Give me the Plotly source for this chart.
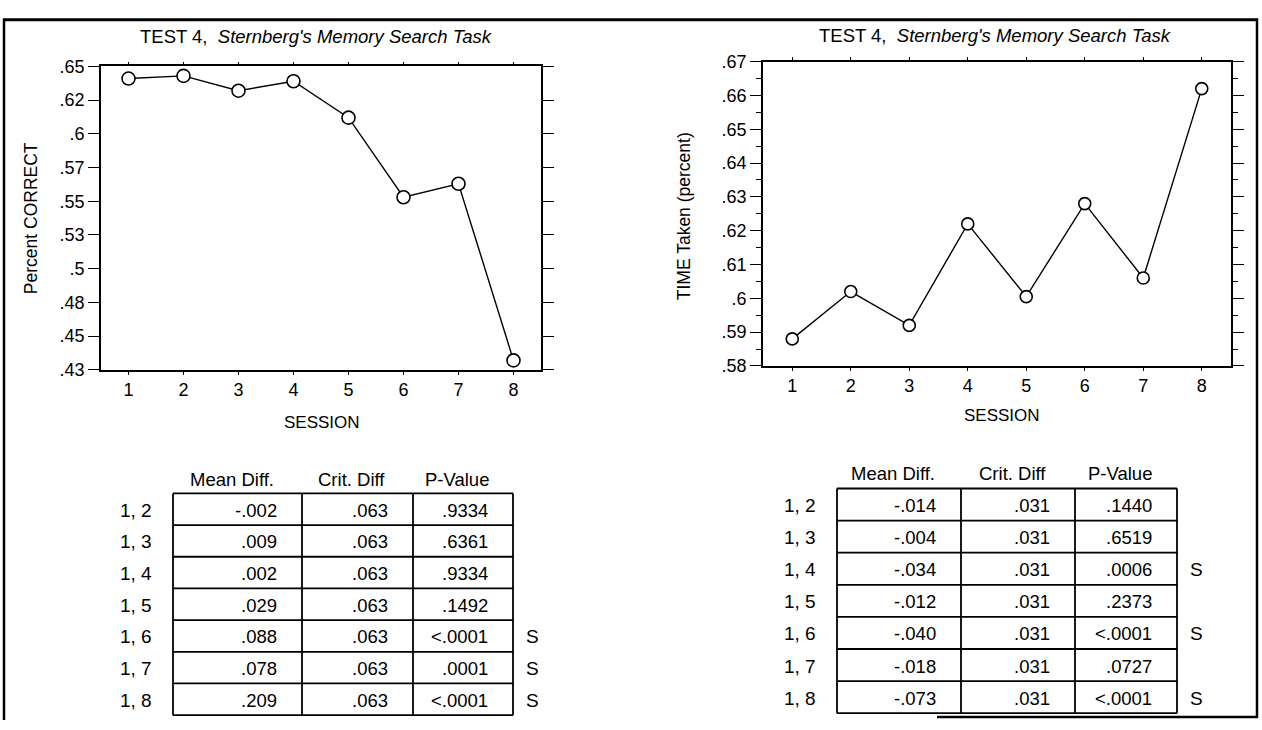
import plotly.graph_objects as go

W, H = 1262, 730
FONT = "Liberation Sans, Arial, Helvetica, sans-serif"

# ---------------- data ----------------
sessions = [1, 2, 3, 4, 5, 6, 7, 8]
pct_correct = [0.641, 0.643, 0.632, 0.639, 0.612, 0.553, 0.563, 0.432]
time_taken = [0.588, 0.602, 0.592, 0.622, 0.6005, 0.628, 0.606, 0.662]

left_ytickvals = [0.425, 0.45, 0.475, 0.5, 0.525, 0.55, 0.575, 0.6, 0.625, 0.65]
left_yticktext = [".43", ".45", ".48", ".5", ".53", ".55", ".57", ".6", ".62", ".65"]
right_ytickvals = [0.58, 0.59, 0.60, 0.61, 0.62, 0.63, 0.64, 0.65, 0.66, 0.67]
right_yticktext = [".58", ".59", ".6", ".61", ".62", ".63", ".64", ".65", ".66", ".67"]

table_headers = ["Mean Diff.", "Crit. Diff", "P-Value"]
pair_labels = ["1, 2", "1, 3", "1, 4", "1, 5", "1, 6", "1, 7", "1, 8"]

left_mean = ["-.002", ".009", ".002", ".029", ".088", ".078", ".209"]
left_crit = [".063", ".063", ".063", ".063", ".063", ".063", ".063"]
left_p = [".9334", ".6361", ".9334", ".1492", "<.0001", ".0001", "<.0001"]
left_sig = ["", "", "", "", "S", "S", "S"]

right_mean = ["-.014", "-.004", "-.034", "-.012", "-.040", "-.018", "-.073"]
right_crit = [".031", ".031", ".031", ".031", ".031", ".031", ".031"]
right_p = [".1440", ".6519", ".0006", ".2373", "<.0001", ".0727", "<.0001"]
right_sig = ["", "", "S", "", "S", "", "S"]

title_text = "TEST 4,&nbsp; <i>Sternberg's Memory Search Task</i>"

# ---------------- helpers ----------------
def px(x):
    return x / W

def py(y):
    return 1 - y / H

fig = go.Figure()

marker_style = dict(symbol="circle", color="white", line=dict(color="black", width=1.6))

fig.add_trace(go.Scatter(x=sessions, y=pct_correct, mode="lines+markers",
                         line=dict(color="black", width=1.4),
                         marker=dict(size=13, **marker_style),
                         xaxis="x", yaxis="y", showlegend=False))
fig.add_trace(go.Scatter(x=sessions, y=time_taken, mode="lines+markers",
                         line=dict(color="black", width=1.4),
                         marker=dict(size=12, **marker_style),
                         xaxis="x2", yaxis="y2", showlegend=False))

# plot areas (pixels)
L = dict(x0=101, x1=541, y0=58, y1=370)
R = dict(x0=763, x1=1231, y0=53, y1=366)

TICKFONT = dict(family=FONT, size=18, color="black")
common_x = dict(range=[0.5, 8.5], tickvals=sessions, ticks="outside", ticklen=3,
                tickwidth=1.2, tickcolor="black", showline=True, linecolor="black",
                linewidth=1.8, mirror="allticks", showgrid=False, zeroline=False,
                tickfont=TICKFONT)
common_y = dict(ticks="outside", ticklen=11, tickwidth=1.4, tickcolor="black",
                showline=True, linecolor="black", linewidth=1.8, mirror="allticks",
                showgrid=False, zeroline=False, tickfont=TICKFONT)

fig.update_layout(
    width=W, height=H,
    margin=dict(l=0, r=0, t=0, b=0),
    paper_bgcolor="white", plot_bgcolor="white",
    font=dict(family=FONT, size=18, color="black"),
    xaxis=dict(domain=[px(L["x0"]), px(L["x1"])], anchor="y", **common_x),
    yaxis=dict(domain=[py(L["y1"]), py(L["y0"])], anchor="x", range=[0.425, 0.65],
               tickvals=left_ytickvals, ticktext=left_yticktext, **common_y),
    xaxis2=dict(domain=[px(R["x0"]), px(R["x1"])], anchor="y2", **common_x),
    yaxis2=dict(domain=[py(R["y1"]), py(R["y0"])], anchor="x2", range=[0.58, 0.67],
                tickvals=right_ytickvals, ticktext=right_yticktext,
                minor=dict(dtick=0.005, tick0=0.58, ticks="outside", ticklen=5,
                           tickwidth=1.3, tickcolor="black", showgrid=False),
                **common_y),
)

annotations = []
shapes = []

def text(x, y, s, size=18, xanchor="center", angle=0):
    annotations.append(dict(x=px(x), y=py(y), xref="paper", yref="paper", text=s,
                            showarrow=False, xanchor=xanchor, yanchor="middle",
                            textangle=angle,
                            font=dict(family=FONT, size=size, color="black")))

# titles and axis titles
text(316, 27, title_text, size=18.5)
text(995, 26, title_text, size=18.5)
text(322, 424, "SESSION", size=17)
text(1002, 417, "SESSION", size=17)
text(31, 214, "Percent CORRECT", size=17.5, angle=-90)
text(684, 212, "TIME Taken (percent)", size=17.5, angle=-90)

# tables
def draw_table(edges, top, bottom, header_y, mean, crit, pval, sig):
    n = len(pair_labels)
    rh = (bottom - top) / n
    lw = 1.8
    for i in range(n + 1):
        yy = top + i * rh
        shapes.append(dict(type="line", xref="paper", yref="paper",
                           x0=px(edges[0]), x1=px(edges[-1]), y0=py(yy), y1=py(yy),
                           line=dict(color="black", width=lw)))
    for xx in edges:
        shapes.append(dict(type="line", xref="paper", yref="paper",
                           x0=px(xx), x1=px(xx), y0=py(top), y1=py(bottom),
                           line=dict(color="black", width=lw)))
    for j, h in enumerate(table_headers):
        text((edges[j] + edges[j + 1]) / 2 - 6, header_y, h, size=18.5)
    cols = [mean, crit, pval]
    for i in range(n):
        yc = top + (i + 0.5) * rh + 1
        text(edges[0] - 37, yc, pair_labels[i], size=19)
        for j, col in enumerate(cols):
            text(edges[j + 1] - 23, yc, col[i], size=18.5, xanchor="right")
        if sig[i]:
            text(edges[-1] + 19, yc, sig[i], size=19)

draw_table([173, 302, 413, 513], 497, 725, 483, left_mean, left_crit, left_p, left_sig)
draw_table([837, 961, 1075, 1177], 492, 723, 477, right_mean, right_crit, right_p, right_sig)

# outer frame of the page
frame = dict(color="black", width=3)
shapes.append(dict(type="line", xref="paper", yref="paper", x0=px(3), x1=px(1258),
                   y0=py(10), y1=py(10), line=frame))
shapes.append(dict(type="line", xref="paper", yref="paper", x0=px(4), x1=px(4),
                   y0=py(9), y1=py(730), line=dict(color="black", width=2.5)))
shapes.append(dict(type="line", xref="paper", yref="paper", x0=px(1257), x1=px(1257),
                   y0=py(9), y1=py(728), line=dict(color="black", width=2.5)))
shapes.append(dict(type="line", xref="paper", yref="paper", x0=px(937), x1=px(1258),
                   y0=py(727), y1=py(727), line=dict(color="black", width=2.5)))

fig.update_layout(annotations=annotations, shapes=shapes)

fig.write_html("out.html",
               post_script="document.body.style.margin='0px';document.body.style.overflow='hidden';")
